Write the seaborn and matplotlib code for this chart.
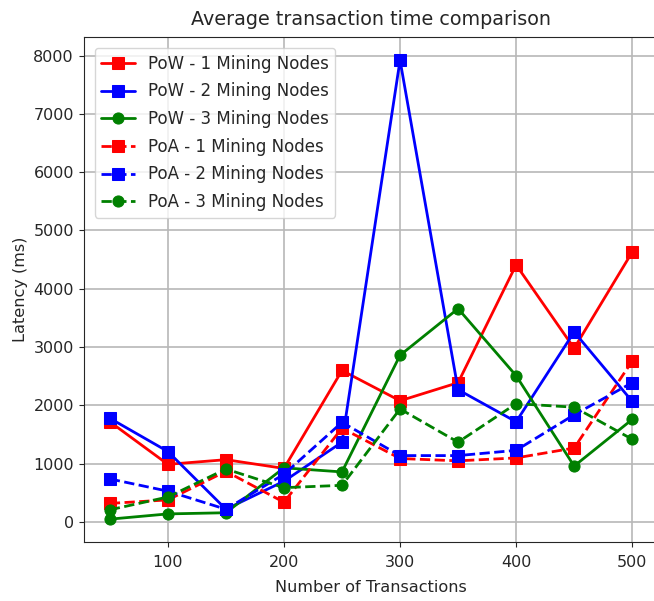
import pandas as pd
import matplotlib
matplotlib.use('Agg')
import matplotlib.pyplot as plt
import seaborn as sns

# transactions on the x axis
transactions = [50, 100, 150, 200, 250, 300, 350, 400, 450, 500]

# latency values (ms)
pow_1 = [1720, 990, 1070, 920, 2600, 2080, 2390, 4410, 2980, 4630]
pow_2 = [1780, 1210, 220, 700, 1370, 7920, 2270, 1720, 3260, 2070]
pow_3 = [50, 140, 160, 930, 860, 2860, 3660, 2510, 960, 1760]
poa_1 = [320, 380, 870, 340, 1610, 1090, 1050, 1100, 1270, 2760]
poa_2 = [740, 530, 220, 820, 1710, 1140, 1140, 1230, 1840, 2390]
poa_3 = [210, 430, 910, 590, 630, 1940, 1370, 2030, 1970, 1420]

labels = ['PoW - 1 Mining Nodes', 'PoW - 2 Mining Nodes', 'PoW - 3 Mining Nodes',
          'PoA - 1 Mining Nodes', 'PoA - 2 Mining Nodes', 'PoA - 3 Mining Nodes']
series = [pow_1, pow_2, pow_3, poa_1, poa_2, poa_3]
colors = ['red', 'blue', 'green', 'red', 'blue', 'green']
markers = ['s', 's', 'o', 's', 's', 'o']
styles = ['-', '-', '-', '--', '--', '--']

sns.set_style('ticks')
plt.rcParams['font.family'] = ['DejaVu Sans']

fig, ax = plt.subplots(figsize=(6.54, 6.01), dpi=100)
for vals, lab, c, m, ls in zip(series, labels, colors, markers, styles):
    df = pd.DataFrame({'x': transactions, 'y': vals})
    sns.lineplot(data=df, x='x', y='y', ax=ax, color=c, marker=m, linestyle=ls,
                 linewidth=2, markersize=8, markeredgecolor=c, label=lab)

ax.set_title('Average transaction time comparison', fontsize=13.8, pad=9)
ax.set_xlabel('Number of Transactions', fontsize=11.6, labelpad=7)
ax.set_ylabel('Latency (ms)', fontsize=11.6)
ax.tick_params(labelsize=11.5)
ax.tick_params(axis='x', pad=6)
ax.grid(True, color='#b8b8b8', linewidth=1.2)
ax.legend(loc='upper left', fontsize=12, handlelength=2, labelspacing=0.58,
          borderaxespad=0.65)
# the original picture is cut off on the right, so the axes run past the edge
fig.subplots_adjust(left=0.128, right=1.0066, top=0.938, bottom=0.098)
fig.savefig('out.png')
